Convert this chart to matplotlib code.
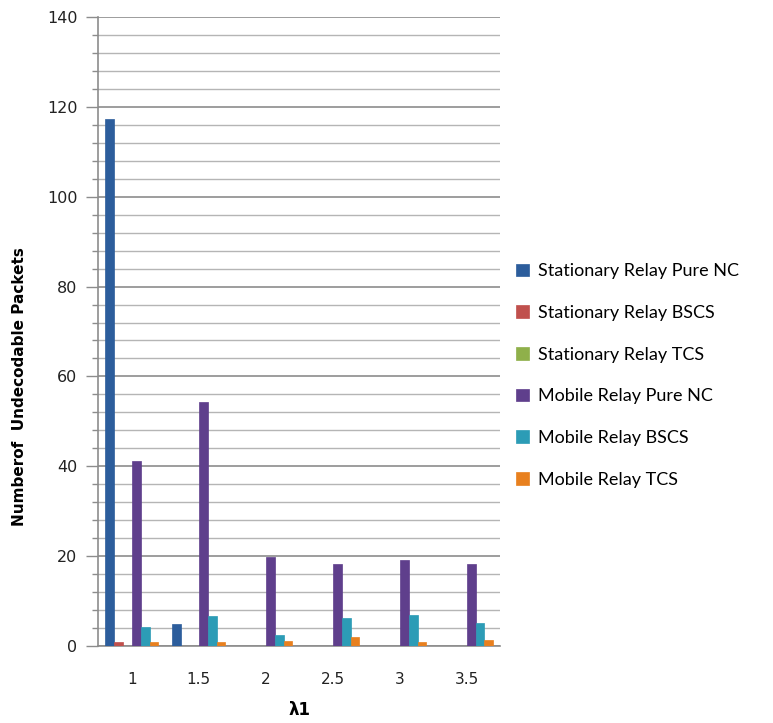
import matplotlib.pyplot as plt
import numpy as np
from matplotlib.ticker import MultipleLocator

lam = ['1', '1.5', '2', '2.5', '3', '3.5']
series_names = ['Stationary Relay Pure NC', 'Stationary Relay BSCS', 'Stationary Relay TCS',
                'Mobile Relay Pure NC', 'Mobile Relay BSCS', 'Mobile Relay TCS']
stat_pure = [117.4, 5.0, 0, 0, 0, 0]
stat_bscs = [0.8, 0, 0, 0, 0, 0]
stat_tcs = [0, 0, 0, 0, 0, 0]
mob_pure = [41.2, 54.3, 19.8, 18.2, 19.2, 18.2]
mob_bscs = [4.3, 6.6, 2.4, 6.3, 7.0, 5.2]
mob_tcs = [0.8, 0.8, 1.2, 1.9, 0.8, 1.3]
colors = ['#2C5D9C', '#C0504D', '#8FB04A', '#5F3F8C', '#2C9CB6', '#E8801F']

data = [stat_pure, stat_bscs, stat_tcs, mob_pure, mob_bscs, mob_tcs]

fig = plt.figure(figsize=(7.73, 7.23), dpi=100)
ax = fig.add_axes([0.127, 0.1065, 0.52, 0.87])

x = np.arange(len(lam))
w = 1 / 7.5
for i, (vals, c, name) in enumerate(zip(data, colors, series_names)):
    ax.bar(x + (i - 2.5) * w, vals, width=w, color=c, edgecolor=c, linewidth=0.5,
           label=name, zorder=3)

ax.set_xlim(-0.5, len(lam) - 0.5)
ax.set_ylim(0, 140)
ax.yaxis.set_major_locator(MultipleLocator(20))
ax.yaxis.set_minor_locator(MultipleLocator(4))
ax.grid(axis='y', which='major', color='#8c8c8c', linewidth=1.2, zorder=0)
ax.grid(axis='y', which='minor', color='#b5b5b5', linewidth=1.0, zorder=0)
ax.set_xticks(x)
ax.set_xticklabels(lam)
ax.tick_params(axis='x', length=0, pad=19, labelsize=11, colors='#222222')
ax.tick_params(axis='y', which='major', length=9, width=1, color='#8c8c8c', labelsize=11.5,
               labelcolor='#222222', pad=6)
ax.tick_params(axis='y', which='minor', length=4, width=1, color='#8c8c8c')
for s in ['top', 'right']:
    ax.spines[s].set_visible(False)
for s in ['left', 'bottom']:
    ax.spines[s].set_color('#8c8c8c')
    ax.spines[s].set_linewidth(1.2)

ax.set_ylabel('Numberof  Undecodable Packets', fontsize=11, fontweight='bold')
ax.yaxis.set_label_coords(-0.177, 0.413)
ax.set_xlabel('λ1', fontsize=12, fontweight='bold', labelpad=10)

ax.legend(loc='center left', bbox_to_anchor=(1.0, 0.43), frameon=False,
          prop={'family': 'Lato', 'size': 13}, handlelength=0.7, handleheight=0.7,
          handletextpad=0.5, labelspacing=1.42)

plt.savefig('out.png', dpi=100)
